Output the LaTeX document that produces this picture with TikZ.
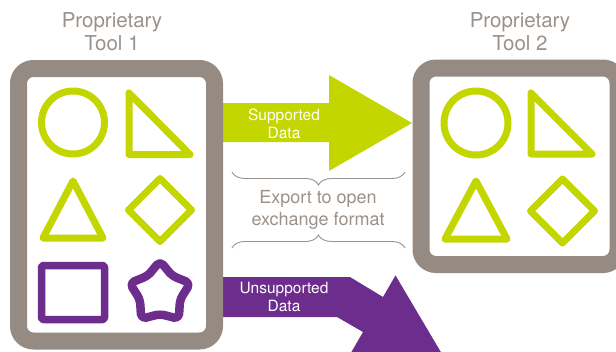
\documentclass[tikz,border=0pt]{standalone}
\usepackage{fontspec}
\setmainfont{TeX Gyre Heros}
\usetikzlibrary{decorations.pathreplacing}
\definecolor{boxgrey}{HTML}{958B82}
\definecolor{txtgrey}{HTML}{9A918A}
\definecolor{lime}{HTML}{C4D600}
\definecolor{purp}{HTML}{6C2D8C}
\begin{document}
\begin{tikzpicture}[x=1pt,y=-1pt,
 toolbox/.style={draw=boxgrey, line width=17pt, rounded corners=15pt, fill=white},
 gshape/.style={draw=lime, line width=7pt, line join=round},
 pshape/.style={draw=purp, line width=7.5pt, line join=round},
 title/.style={text=txtgrey, font=\fontsize{20.5}{23}\selectfont, align=center, inner sep=0pt},
 arrowlabel/.style={text=white, font=\fontsize{15.5}{18}\selectfont, align=center, inner sep=0pt},
 exportlabel/.style={text=txtgrey, font=\fontsize{18}{22}\selectfont, align=center, inner sep=0pt},
 bracestyle/.style={draw=txtgrey, line width=0.9pt, decorate, decoration={brace, amplitude=13pt}}]
\useasboundingbox (0,0) rectangle (616,351);
\clip (0,0) rectangle (616,351);
% arrows
\fill[lime] (214,103) -- (329,103) -- (329,75) -- (412,123) -- (329,171) -- (329,142) -- (214,142) -- cycle;
\fill[purp] (214,277) -- (350,277) -- (383,297) -- (395.5,275.4) -- (442.3,354.5) -- (350.5,353.6) -- (363,332) -- (337,317) -- (214,317) -- cycle;
% boxes
\draw[toolbox] (18.5,68.5) rectangle (214.5,341);
\draw[toolbox] (421,68) rectangle (618,264.5);
% left box shapes
\draw[gshape] (73,122.5) circle[radius=31.5];
\draw[gshape] (129,93) -- (129,154.5) -- (190,154.5) -- cycle;
\draw[gshape] (73,181) -- (103,238) -- (43,238) -- cycle;
\draw[gshape] (160,178.5) -- (191.5,210) -- (160,241.5) -- (128.5,210) -- cycle;
\draw[pshape, rounded corners=2pt] (41.5,265.5) rectangle (104.5,319.5);
\draw[pshape, line width=8.5pt, rounded corners=5pt] (160,261) -- (172.3,276) -- (190.4,283.1) -- (180,299.5) -- (178.8,318.9) -- (160,314) -- (141.2,318.9) -- (140,299.5) -- (129.6,283.1) -- (147.7,276) -- cycle;
% right box shapes
\draw[gshape] (476,123) circle[radius=32];
\draw[gshape] (531,93) -- (531,154) -- (592,154) -- cycle;
\draw[gshape] (476,181) -- (507,239) -- (445,239) -- cycle;
\draw[gshape] (562.5,179) -- (594.5,211) -- (562.5,243) -- (530.5,211) -- cycle;
% texts
\node[title] (t1) at (112,31.5) {Proprietary\\Tool 1};
\node[title] (t2) at (520,31.5) {Proprietary\\Tool 2};
\node[arrowlabel] (sup) at (284,123.5) {Supported\\Data};
\node[arrowlabel] (uns) at (284,296.5) {Unsupported\\Data};
\node[exportlabel] (exp) at (318,209.5) {Export to open\\exchange format};
% braces
\draw[bracestyle] (405,172) -- (232,172);
\draw[bracestyle] (232,248) -- (405,248);
\end{tikzpicture}
\end{document}
